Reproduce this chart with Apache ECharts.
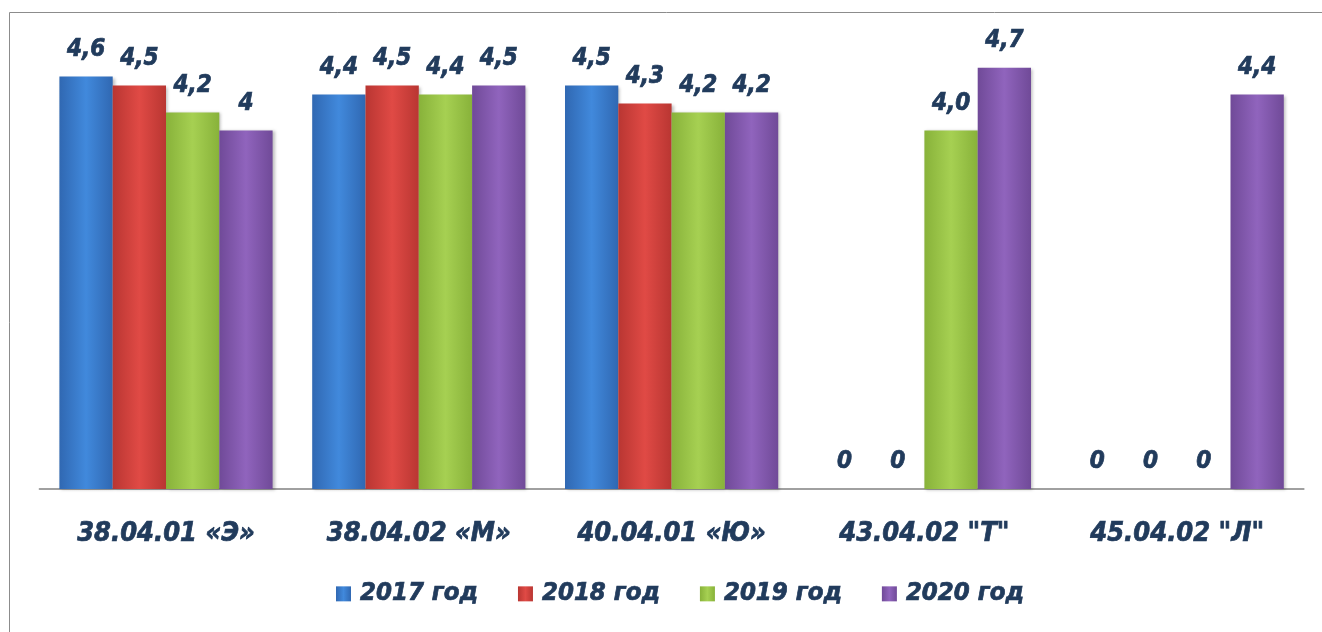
<!DOCTYPE html>
<html>
<head>
<meta charset="utf-8">
<script src="https://cdn.jsdelivr.net/npm/echarts@6/dist/echarts.min.js"></script>
<style>
html,body{margin:0;padding:0;background:#fff;}
#c{width:1322px;height:632px;}
</style>
</head>
<body>
<div id="c"></div>
<script>
const categories = ['38.04.01 «Э»', '38.04.02 «М»', '40.04.01 «Ю»', '43.04.02 "Т"', '45.04.02 "Л"'];
const seriesNames = ['2017 год', '2018 год', '2019 год', '2020 год'];
const v2017 = [4.6, 4.4, 4.5, 0, 0];
const v2018 = [4.5, 4.5, 4.3, 0, 0];
const v2019 = [4.2, 4.4, 4.2, 4.0, 0];
const v2020 = [4.0, 4.5, 4.2, 4.7, 4.4];
const l2017 = ['4,6', '4,4', '4,5', '0', '0'];
const l2018 = ['4,5', '4,5', '4,3', '0', '0'];
const l2019 = ['4,2', '4,4', '4,2', '4,0', '0'];
const l2020 = ['4', '4,5', '4,2', '4,7', '4,4'];

const values = [v2017, v2018, v2019, v2020];
const labels = [l2017, l2018, l2019, l2020];
const palettes = [
  ['#3068b2', '#4189dc', '#3068b2'],
  ['#b93632', '#e04a45', '#b93632'],
  ['#88b23a', '#a6d052', '#88b23a'],
  ['#704a98', '#9064bd', '#704a98']
];
const FONT = "'DejaVu Sans Condensed', 'DejaVu Sans', sans-serif";
const TXT = '#213b5c';

function grad(p) {
  return new echarts.graphic.LinearGradient(0, 0, 1, 0, [
    {offset: 0, color: p[0]},
    {offset: 0.5, color: p[1]},
    {offset: 1, color: p[2]}
  ]);
}

const chart = echarts.init(document.getElementById('c'));
chart.setOption({
  animation: false,
  backgroundColor: '#fff',
  graphic: [{
    type: 'rect', silent: true,
    shape: {x: 9.5, y: 12.5, width: 1400, height: 700},
    style: {fill: 'none', stroke: '#8c8c8c', lineWidth: 1}
  }],
  grid: {left: 39.6, right: 18.4, top: 40.75, bottom: 143},
  legend: {
    left: 336, top: 580.5, padding: 0,
    itemWidth: 15, itemHeight: 15, itemGap: 39.5,
    icon: 'rect',
    textStyle: {fontFamily: FONT, fontSize: 25.5, fontStyle: 'italic', fontWeight: 'bold', color: TXT,
      textBorderColor: TXT, textBorderWidth: 0.7, padding: [0, 0, 0, 4]},
    data: seriesNames
  },
  xAxis: {
    type: 'category', data: categories,
    axisLine: {lineStyle: {color: '#a0a0a0', width: 2}},
    axisTick: {show: false},
    axisLabel: {interval: 0, fontFamily: FONT, fontSize: 27, fontStyle: 'italic', fontWeight: 'bold', color: TXT,
      textBorderColor: TXT, textBorderWidth: 0.7, margin: 31.5}
  },
  yAxis: {type: 'value', min: 0, max: 5, show: false, splitLine: {show: false}},
  series: values.map((v, i) => ({
    name: seriesNames[i], type: 'bar', data: v,
    barWidth: 53.3, barGap: '0%',
    itemStyle: {color: grad(palettes[i]), shadowColor: 'rgba(0,0,0,0.25)', shadowBlur: 3, shadowOffsetX: 2, shadowOffsetY: 1},
    label: {
      show: true, position: 'top', distance: 15,
      fontFamily: FONT, fontSize: 24, fontStyle: 'italic', fontWeight: 'bold', color: TXT,
      textBorderColor: TXT, textBorderWidth: 0.7,
      formatter: p => labels[i][p.dataIndex]
    }
  }))
});
</script>
</body>
</html>
